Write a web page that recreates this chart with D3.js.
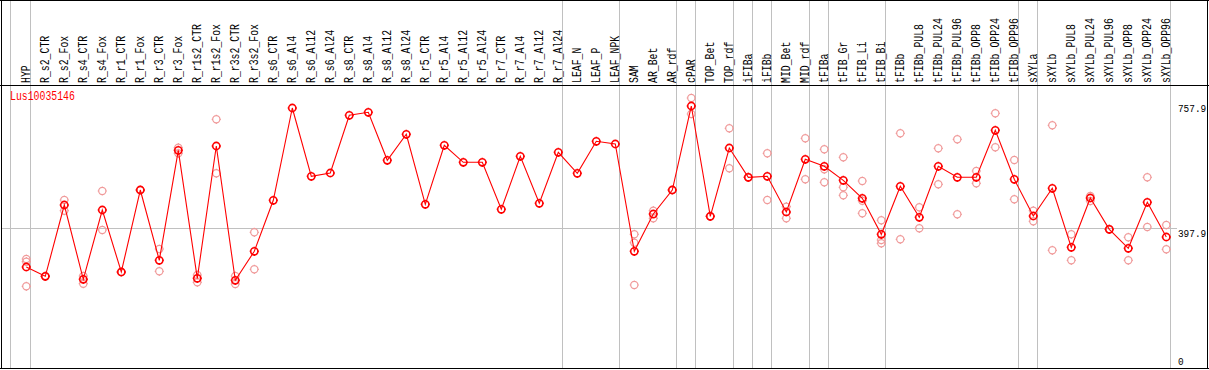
<!DOCTYPE html>
<html>
<head>
<meta charset="utf-8">
<script src="https://cdn.jsdelivr.net/npm/d3@7"></script>
<style>
  html, body { margin: 0; padding: 0; background: #fff; }
  svg { display: block; }
  text { font-family: "Liberation Mono", "DejaVu Sans Mono", monospace; font-size: 12px; }
</style>
</head>
<body>
<div id="chart"></div>
<script>
const geneName = "Lus10035146";

const categories = ["HYP","R_s2_CTR","R_s2_Fox","R_s4_CTR","R_s4_Fox","R_r1_CTR","R_r1_Fox","R_r3_CTR","R_r3_Fox",
  "R_r1s2_CTR","R_r1s2_Fox","R_r3s2_CTR","R_r3s2_Fox","R_s6_CTR","R_s6_Al4","R_s6_Al12","R_s6_Al24",
  "R_s8_CTR","R_s8_Al4","R_s8_Al12","R_s8_Al24","R_r5_CTR","R_r5_Al4","R_r5_Al12","R_r5_Al24",
  "R_r7_CTR","R_r7_Al4","R_r7_Al12","R_r7_Al24","LEAF_N","LEAF_P","LEAF_NPK","SAM","AR_Bet","AR_rdf",
  "cPAR","TOP_Bet","TOP_rdf","iFIBa","iFIBb","MID_Bet","MID_rdf","tFIBa","tFIB_Gr","tFIB_Li","tFIB_Bi",
  "tFIBb","tFIBb_PUL8","tFIBb_PUL24","tFIBb_PUL96","tFIBb_OPP8","tFIBb_OPP24","tFIBb_OPP96",
  "sXYLa","sXYLb","sXYLb_PUL8","sXYLb_PUL24","sXYLb_PUL96","sXYLb_OPP8","sXYLb_OPP24","sXYLb_OPP96"];

const means = [285.2,258.6,462.9,250.0,448.6,270.9,505.9,304.4,619.7,
  252.8,632.1,247.1,330.2,476.4,741.0,545.2,554.7,
  720.1,728.7,591.1,665.6,464.9,634.1,585.3,585.3,
  450.6,602.5,467.8,614.0,553.8,645.5,637.8,330.2,437.1,505.9,
  746.7,430.5,626.3,542.3,545.2,442.9,593.9,573.9,533.7,482.1,378.9,
  516.5,427.7,573.9,542.3,542.3,677.1,536.6,
  431.4,510.8,341.7,483.0,393.3,338.8,470.7,371.2];

const replicates = [
  [308.2,300.4,229.9],[258.6,258.6],[477.3,446.6],[259.4,237.3],[503.1,391.3],[270.9,270.9],[505.9,505.9],[336.8,272.9],[627.2,611.1],
  [262.3,241.4],[708.6,553.8],[259.4,236.5],[384.7,278.6],[],[],[],[],
  [],[],[],[],[],[],[],[],
  [],[],[],[],[],[],[],[378.9,354.9,233.6],[446.6,424.8],[505.9,505.9],
  [769.7,723.8],[430.5,430.5],[682.8,568.1],[542.3,542.3],[611.1,477.3],[458.1,424.8],[654.1,536.6],[622.6,565.3,528.0],[599.7,513.7,490.7],[531.7,475.3,439.1],[419.1,362.6,353.2],
  [668.5,364.6],[456.3,396.1],[625.5,522.3],[651.3,436.3],[560.4,525.1],[725.8,628.3],[591.9,479.3],
  [446.6,416.2],[691.4,333.1],[378.9,304.4],[488.7,474.4],[393.3,393.3],[370.4,304.4],[542.3,399.9],[405.6,336.0]];

// group boundaries: a separator line follows each of these categories
const groupEnds = ["HYP","R_r7_Al24","LEAF_NPK","AR_rdf","cPAR","TOP_rdf","iFIBa","iFIBb","MID_rdf","tFIBa","tFIB_Bi","tFIBb_OPP96","sXYLa","sXYLb_OPP96"];

const yTicks = [0, 397.9, 757.9];
const refValue = 397.9;

const W = 1209, H = 370;
const SX = 0.82; // horizontal squeeze of the narrow label font
const svg = d3.select("#chart").append("svg").attr("width", W).attr("height", H);
svg.append("rect").attr("width", W).attr("height", H).attr("fill", "#fff");

const idx = d3.scaleLinear().domain([0, categories.length - 1]).range([26.3, 1166.3]);
const x = c => idx(categories.indexOf(c));
const y = d3.scaleLinear().domain([0, 757.9]).range([366.5, 102.1]);

const grey = "#c0c0c0";
const seps = [Math.round(x(categories[0]) - 16) + 0.5].concat(groupEnds.map(c => Math.round(x(c) + 4) + 0.5));
svg.selectAll("line.sep").data(seps).join("line")
  .attr("x1", d => d).attr("x2", d => d).attr("y1", 0).attr("y2", 369)
  .attr("stroke", grey).attr("stroke-width", 1);

svg.append("line").attr("x1", 1).attr("x2", 1177)
  .attr("y1", Math.round(y(refValue)) + 0.5).attr("y2", Math.round(y(refValue)) + 0.5)
  .attr("stroke", grey).attr("stroke-width", 1);

// frame
svg.append("line").attr("x1", 0).attr("x2", W).attr("y1", 0.5).attr("y2", 0.5).attr("stroke", "#000");
svg.append("line").attr("x1", 0).attr("x2", W).attr("y1", 85.5).attr("y2", 85.5).attr("stroke", "#000");
svg.append("line").attr("x1", 0).attr("x2", W).attr("y1", 368.5).attr("y2", 368.5).attr("stroke", "#000");
svg.append("line").attr("x1", 1.5).attr("x2", 1.5).attr("y1", 0).attr("y2", 369).attr("stroke", "#000");
svg.append("line").attr("x1", 1207.5).attr("x2", 1207.5).attr("y1", 0).attr("y2", 369).attr("stroke", "#000");

// column labels
svg.selectAll("text.cat").data(categories).join("text")
  .attr("transform", d => `translate(${x(d) + 3.7},83) rotate(-90) scale(${SX},1)`)
  .attr("text-anchor", "start").attr("fill", "#000")
  .text(d => d);

svg.append("text").attr("transform", `translate(10,100) scale(${SX},1)`).attr("fill", "#ff0000").text(geneName);

// right axis
const axis = d3.axisRight(y).tickValues(yTicks).tickSize(0).tickFormat(d => d === 0 ? "0" : d3.format(".1f")(d));
const ag = svg.append("g").attr("transform", "translate(1176,0)").call(axis);
ag.select(".domain").remove();
ag.selectAll("text").attr("x", 2.4).attr("fill", "#000")
  .attr("transform", `scale(${SX},1)`)
  .style("font-family", "Liberation Mono, DejaVu Sans Mono, monospace").style("font-size", "11.5px")
  .attr("dy", d => d === 0 ? "-0.2em" : "0.8em");

function glyph(r, t) {
  return `M${-r},0a${r},${r} 0 1,0 ${2*r},0a${r},${r} 0 1,0 ${-2*r},0` +
    `M0,${-r}v${-t}M0,${r}v${t}M${-r},0h${-t}M${r},0h${t}`;
}

const repPts = [];
replicates.forEach((arr, i) => arr.forEach(v => repPts.push({c: categories[i], v})));
svg.selectAll("path.rep").data(repPts).join("path")
  .attr("transform", d => `translate(${x(d.c)},${y(d.v)})`)
  .attr("d", glyph(3.6, 1))
  .attr("fill", "none").attr("stroke", "#f09a9a").attr("stroke-width", 1.2);

const line = d3.line().x((d, i) => idx(i)).y(d => y(d));
svg.append("path").attr("d", line(means)).attr("fill", "none").attr("stroke", "#ff0000").attr("stroke-width", 1.1);

svg.selectAll("path.mean").data(means).join("path")
  .attr("transform", (d, i) => `translate(${idx(i)},${y(d)})`)
  .attr("d", glyph(3.6, 1))
  .attr("fill", "none").attr("stroke", "#ff0000").attr("stroke-width", 1.6);
</script>
</body>
</html>
